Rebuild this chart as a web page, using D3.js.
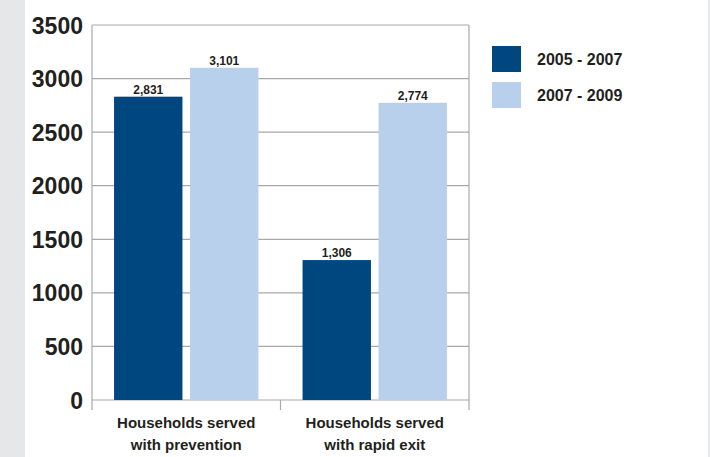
<!DOCTYPE html>
<html>
<head>
<meta charset="utf-8">
<script src="https://cdn.jsdelivr.net/npm/d3@7"></script>
<style>
  html, body { margin: 0; padding: 0; background: #fff; }
  svg { display: block; }
  text { font-family: "Liberation Sans", Arial, sans-serif; fill: #231f20; }
</style>
</head>
<body>
<svg id="chart" width="710" height="457"></svg>
<script>
// Households served, by program type and period
const categories = [["Households served", "with prevention"], ["Households served", "with rapid exit"]];
const seriesNames = ["2005 - 2007", "2007 - 2009"];
const series2005 = [2831, 1306];
const series2007 = [3101, 2774];
const yTicks = [0, 500, 1000, 1500, 2000, 2500, 3000, 3500];
const colors = ["#00467f", "#b9d0ec"];

const svg = d3.select("#chart");
const W = 710, H = 457;

// page frame: grey strip on the left, thin rule on the right
svg.append("rect").attr("x", 0).attr("y", 0).attr("width", 25).attr("height", H).attr("fill", "#e6e7e9");
svg.append("rect").attr("x", 708).attr("y", 0).attr("width", 2).attr("height", H).attr("fill", "#e6e7e9");

const plot = { left: 92, right: 469, top: 25, bottom: 400 };

const y = d3.scaleLinear().domain([0, 3500]).range([plot.bottom, plot.top]);
const x0 = d3.scaleBand().domain(d3.range(categories.length)).range([plot.left, plot.right]).paddingInner(0.234).paddingOuter(0.117);
const x1 = d3.scaleBand().domain(d3.range(seriesNames.length)).range([0, x0.bandwidth()]).paddingInner(0.1);

// horizontal gridlines
svg.append("g").selectAll("line").data(yTicks).join("line")
  .attr("x1", plot.left).attr("x2", plot.right)
  .attr("y1", d => y(d)).attr("y2", d => y(d))
  .attr("stroke", "#a7a9ac").attr("stroke-width", 1.2);

// y axis
const yAxis = d3.axisLeft(y).tickValues(yTicks).tickSize(0).tickPadding(9).tickFormat(d3.format("d"));
const gy = svg.append("g").attr("transform", `translate(${plot.left},0)`).call(yAxis);
gy.select(".domain").remove();
gy.selectAll("text").attr("font-size", 23).attr("font-weight", "bold").attr("fill", "#231f20").attr("dy", "0.35em");

// vertical axis line and category separators
svg.append("line").attr("x1", plot.left).attr("x2", plot.left).attr("y1", plot.top).attr("y2", plot.bottom + 10)
  .attr("stroke", "#a7a9ac").attr("stroke-width", 1.2);
const seps = [plot.left + (plot.right - plot.left) / 2, plot.right];
svg.append("g").selectAll("line").data(seps).join("line")
  .attr("x1", d => d).attr("x2", d => d)
  .attr("y1", (d, i) => i === 1 ? plot.top : plot.bottom).attr("y2", plot.bottom + 10)
  .attr("stroke", "#a7a9ac").attr("stroke-width", 1.2);

// bars
const data = categories.map((c, i) => ({ i, values: [series2005[i], series2007[i]] }));
const groups = svg.append("g").selectAll("g").data(data).join("g")
  .attr("transform", d => `translate(${x0(d.i)},0)`);

groups.selectAll("rect").data(d => d.values.map((v, s) => ({ v, s }))).join("rect")
  .attr("x", d => x1(d.s)).attr("width", x1.bandwidth())
  .attr("y", d => y(d.v)).attr("height", d => y(0) - y(d.v))
  .attr("fill", d => colors[d.s]);

groups.selectAll("text.val").data(d => d.values.map((v, s) => ({ v, s }))).join("text")
  .attr("class", "val")
  .attr("x", d => x1(d.s) + x1.bandwidth() / 2).attr("y", d => y(d.v) - 3)
  .attr("text-anchor", "middle").attr("font-size", 12).attr("font-weight", "bold")
  .text(d => d3.format(",")(d.v));

// category labels
const catLabels = svg.append("g").selectAll("text").data(categories).join("text")
  .attr("x", (d, i) => x0(i) + x0.bandwidth() / 2)
  .attr("text-anchor", "middle").attr("font-size", 15).attr("font-weight", "bold");
catLabels.selectAll("tspan").data(d => d).join("tspan")
  .attr("x", function () { return d3.select(this.parentNode).attr("x"); })
  .attr("y", (d, j) => 428 + j * 22)
  .text(d => d);

// legend
const legend = svg.append("g").selectAll("g").data(seriesNames).join("g")
  .attr("transform", (d, i) => `translate(492,${46 + i * 36})`);
legend.append("rect").attr("width", 29).attr("height", 26).attr("fill", (d, i) => colors[i]);
legend.append("text").attr("x", 45).attr("y", 13).attr("dy", "0.35em")
  .attr("font-size", 16).attr("font-weight", "bold").text(d => d);
</script>
</body>
</html>
